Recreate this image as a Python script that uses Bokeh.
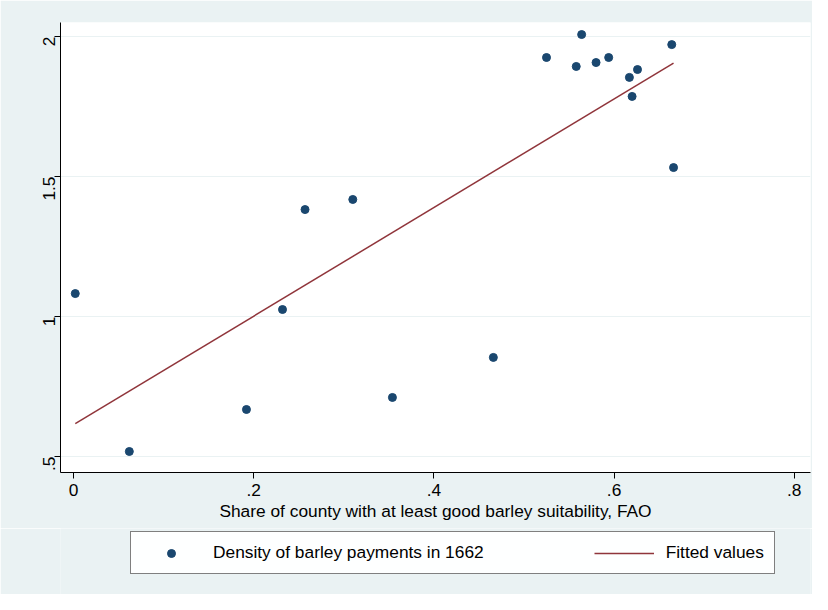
import math
import numpy as np
from bokeh.plotting import figure
from bokeh.layouts import column
from bokeh.models import Legend, LegendItem, FixedTicker
from bokeh.embed import file_html
from bokeh.resources import INLINE

# share of county with at least good barley suitability
share = [0.002, 0.062, 0.192, 0.232, 0.257, 0.310, 0.354, 0.466, 0.525, 0.558,
         0.564, 0.580, 0.594, 0.617, 0.626, 0.620, 0.664, 0.666]
# density of barley payments in 1662
density = [1.082, 0.518, 0.668, 1.025, 1.382, 1.418, 0.711, 0.854, 1.925, 1.893,
           2.007, 1.907, 1.925, 1.854, 1.882, 1.786, 1.971, 1.532]

xticks = [0, 0.2, 0.4, 0.6, 0.8]
xlabels = {0: "0", 0.2: ".2", 0.4: ".4", 0.6: ".6", 0.8: ".8"}
yticks = [0.5, 1, 1.5, 2]
ylabels = {0.5: ".5", 1: "1", 1.5: "1.5", 2: "2"}

slope, icpt = np.polyfit(share, density, 1)
fx = [min(share), max(share)]
fy = [icpt + slope * v for v in fx]

bg = "#EAF2F3"
font = "Liberation Sans"
p = figure(width=812, height=528, x_range=(-0.0144, 0.818), y_range=(0.443, 2.05),
           output_backend="svg", toolbar_location=None,
           background_fill_color="white", border_fill_color=bg,
           min_border_left=60, min_border_right=2, min_border_top=22,
           min_border_bottom=56)
p.outline_line_color = None

p.scatter(share, density, size=8, color="#1A476F")
p.line(fx, fy, line_color="#90353B", line_width=1.5)

p.xgrid.grid_line_color = None
p.ygrid.grid_line_color = bg
p.ygrid.ticker = FixedTicker(ticks=yticks)
p.xaxis.ticker = FixedTicker(ticks=xticks)
p.yaxis.ticker = FixedTicker(ticks=yticks)
p.xaxis.major_label_overrides = xlabels
p.yaxis.major_label_overrides = ylabels
p.yaxis.major_label_orientation = math.pi / 2
p.xaxis.axis_label = "Share of county with at least good barley suitability, FAO"
for ax in (p.xaxis, p.yaxis):
    ax.minor_tick_line_color = None
    ax.major_tick_out = 6
    ax.major_tick_in = 0
    ax.major_label_text_font = font
    ax.major_label_text_font_size = "13pt"
    ax.major_label_text_color = "black"
    ax.axis_label_text_font = font
    ax.axis_label_text_font_size = "13pt"
    ax.axis_label_text_font_style = "normal"
    ax.axis_label_text_color = "black"
    ax.axis_line_color = "black"
    ax.major_tick_line_color = "black"
p.xaxis.axis_label_standoff = 2

# legend lives in its own strip below the plot; its glyphs sit off-screen
q = figure(width=812, height=66, x_range=(0, 1), y_range=(0, 1),
           output_backend="svg", toolbar_location=None,
           background_fill_color=bg, border_fill_color=bg,
           min_border=0)
q.axis.visible = False
q.grid.grid_line_color = None
q.outline_line_color = None
d1 = q.scatter([5], [5], size=8, color="#1A476F")
d2 = q.line([5, 6], [5, 6], line_color="#90353B", line_width=1.5)
legend = Legend(items=[LegendItem(label="Density of barley payments in 1662", renderers=[d1]),
                       LegendItem(label="Fitted values", renderers=[d2])],
                orientation="horizontal", location=(70, 20),
                label_text_font=font, label_text_font_size="13pt",
                label_text_color="black",
                border_line_color="black", background_fill_color="white",
                spacing=110, padding=10, margin=0, glyph_width=60,
                label_standoff=12)
q.add_layout(legend, "center")

open("out.html", "w").write(file_html(column(p, q, spacing=0), INLINE))
